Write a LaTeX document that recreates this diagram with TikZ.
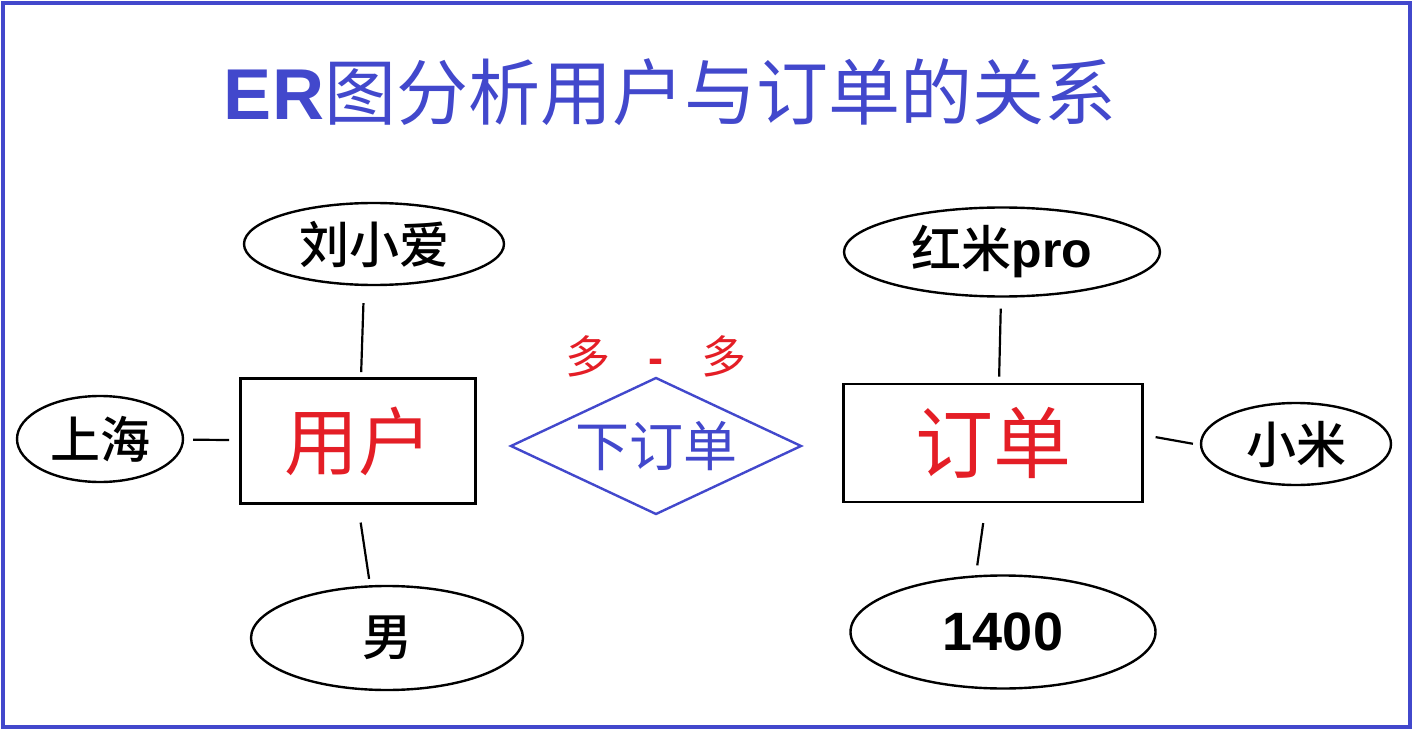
\documentclass[tikz,border=0pt]{standalone}
\usepackage{fontspec}
\usepackage{xcolor}
\usetikzlibrary{positioning, shapes.geometric}
\setmainfont{Noto Sans CJK SC}
\newfontfamily\cjkmed{Noto Sans CJK SC}[UprightFont=* Medium]
\newfontfamily\latinbold{Liberation Sans Bold}
\definecolor{myblue}{RGB}{66, 72, 204}
\definecolor{myred}{RGB}{228, 30, 38}

\begin{document}
\begin{tikzpicture}[x=1pt, y=-1pt,
    attr/.style={ellipse, draw, line width=2.4pt, inner sep=0pt, font=\cjkmed\fontsize{50}{54}\selectfont},
    entity/.style={rectangle, draw, line width=2.6pt, inner sep=0pt, text=myred, font=\fontsize{74}{80}\selectfont},
    link/.style={line width=2.2pt}]
    \useasboundingbox (0,0) rectangle (1414,730);
    % 边框
    \draw[myblue, line width=4pt] (3,3) rectangle (1410,727);
    \node[text=myblue, font=\fontsize{72}{78}\selectfont] (title) at (670,92) {{\latinbold ER}图分析用户与订单的关系};
    
    % 用户
    \node[entity, minimum width=235, minimum height=125] (user) at (358,441) {用户};
    \node[attr, minimum width=260, minimum height=82] (name) at (374,244) {刘小爱};
    \node[attr, minimum width=166, minimum height=86] (city) at (100,439) {上海};
    \node[attr, minimum width=272, minimum height=104] (sex) at (387,638) {男};
    
    \draw[link, shorten <=17pt, shorten >=5pt] ([xshift=-10pt]name.south) -- ([xshift=3pt]user.north);
    \draw[link, shorten <=9pt, shorten >=10pt] (city) -- (user);
    \draw[link, shorten <=18pt, shorten >=6pt] (user.south) -- ([xshift=-17pt]sex.north);
    
    % 联系
    \node[diamond, draw=myblue, line width=2.4pt, aspect=2.1, minimum width=291, minimum height=137, inner sep=0pt, text=myblue, font=\fontsize{54}{58}\selectfont] (place) at (656,446) {下订单};
    \node[text=myred, font=\fontsize{45}{50}\selectfont] (ratio) at (656,356) {多\hspace{38pt}{\latinbold -}\hspace{38pt}多};
    
    % 订单
    \node[entity, minimum width=299, minimum height=118, font=\fontsize{78}{84}\selectfont] (bill) at (993,443) {订单};
    \node[attr, minimum width=316, minimum height=89] (model) at (1002,252) {红米{\latinbold pro}};
    \node[attr, minimum width=190, minimum height=82] (brand) at (1296,444) {小米};
    \node[attr, minimum width=305, minimum height=113] (price) at (1003,632) {{\latinbold\fontsize{54}{58}\selectfont 1400}};
    
    \draw[link, shorten <=11pt, shorten >=6pt] ([xshift=-1pt]model.south) -- ([xshift=6pt]bill.north);
    \draw[link, shorten <=12pt, shorten >=7pt] ([yshift=8pt]bill.east) -- ([yshift=-1pt]brand.west);
    \draw[link, shorten <=20pt, shorten >=9pt] ([xshift=-7pt]bill.south) -- ([xshift=-27pt]price.north);
\end{tikzpicture}
\end{document}
